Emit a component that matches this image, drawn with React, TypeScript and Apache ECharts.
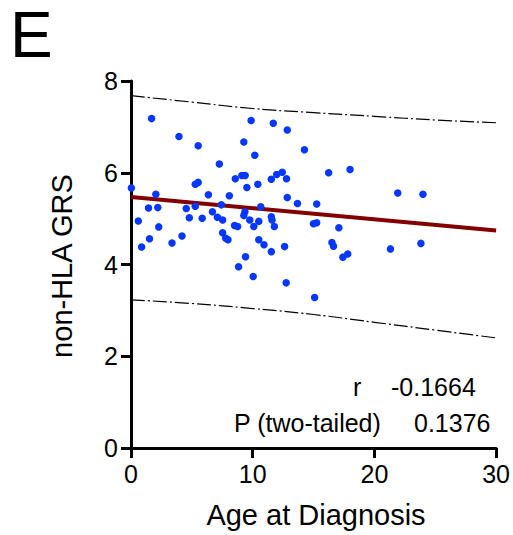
import React, { useEffect, useRef } from 'react';
import * as echarts from 'echarts';

const ages = [
  0.03, 0.6, 0.87, 1.69, 1.44, 1.52, 2.04, 2.2, 2.28, 3.37,
  3.94, 4.19, 4.54, 4.79, 5.28, 5.52, 5.28, 5.52, 5.85, 6.36,
  6.69, 7.26, 7.1, 7.42, 7.53, 7.53, 7.78, 7.97, 8.08, 8.57,
  8.51, 8.76, 8.84, 9.11, 9.38, 9.27, 9.36, 9.27, 9.52, 9.41,
  9.76, 9.87, 10.04, 10.09, 10.17, 10.42, 10.5, 10.5, 10.66, 10.93,
  11.53, 11.53, 11.59, 11.53, 11.69, 11.78, 11.97, 12.43, 12.78, 12.84,
  12.84, 12.62, 12.75, 13.68, 14.25, 14.99, 15.26, 15.26, 15.09, 16.24,
  16.51, 16.64, 17.08, 17.41, 17.81, 18.0, 21.32, 21.92, 23.82, 23.99,
];
const grs = [
  5.67, 4.95, 4.38, 7.18, 5.23, 4.56, 5.53, 5.24, 4.82, 4.47,
  6.79, 4.62, 5.22, 5.02, 5.75, 5.79, 5.27, 6.59, 5.01, 5.52,
  5.15, 6.19, 5.03, 5.3, 4.97, 4.69, 4.57, 4.54, 5.5, 5.87,
  4.85, 4.83, 3.95, 5.94, 5.94, 6.67, 5.15, 5.07, 5.68, 4.17,
  4.97, 7.14, 3.74, 4.83, 6.38, 5.75, 4.94, 4.54, 5.26, 4.43,
  5.86, 5.04, 4.97, 4.28, 7.08, 4.83, 5.96, 6.01, 5.87, 6.93,
  5.46, 4.39, 3.6, 5.33, 6.5, 4.89, 4.91, 5.32, 3.28, 6.0,
  4.48, 4.4, 4.8, 4.16, 4.23, 6.07, 4.34, 5.56, 4.46, 5.53,
];

const fitX = [0, 30];
const fitY = [5.47, 4.74];

const bandX = [0, 5, 10, 15, 20, 25, 30];
const bandUpper = [7.68, 7.54, 7.4, 7.31, 7.23, 7.15, 7.09];
const bandLower = [3.23, 3.15, 3.04, 2.91, 2.74, 2.57, 2.4];

const xTicks = { min: 0, max: 30, interval: 10 };
const yTicks = { min: 0, max: 8, interval: 2 };

const panelLabel = 'E';
const xTitle = 'Age at Diagnosis';
const yTitle = 'non-HLA GRS';
const statR = ['r', '-0.1664'];
const statP = ['P (two-tailed)', '0.1376'];

const FONT = '"Liberation Sans", Arial, Helvetica, sans-serif';

export default function App() {
  const ref = useRef<HTMLDivElement>(null);
  useEffect(() => {
    document.body.style.margin = '0';
    const chart = echarts.init(ref.current!, null, { renderer: 'svg' });
    const axisCommon = {
      axisLine: { show: true, onZero: false, lineStyle: { color: '#000', width: 3 } },
      axisTick: { show: true, inside: false, length: 10, lineStyle: { color: '#000', width: 3 } },
      axisLabel: { color: '#000', fontSize: 25, fontFamily: FONT, margin: 13 },
      splitLine: { show: false },
    };
    chart.setOption({
      animation: false,
      backgroundColor: '#fff',
      grid: { left: 131, right: 14.5, top: 81, bottom: 87, containLabel: false },
      xAxis: { type: 'value', ...xTicks, ...axisCommon },
      yAxis: { type: 'value', ...yTicks, ...axisCommon },
      series: [
        {
          type: 'line',
          data: bandX.map((x, i) => [x, bandUpper[i]]),
          smooth: true,
          showSymbol: false,
          silent: true,
          lineStyle: { color: '#000', width: 1.2, type: [14, 3, 2, 3] },
          z: 2,
        },
        {
          type: 'line',
          data: bandX.map((x, i) => [x, bandLower[i]]),
          smooth: true,
          showSymbol: false,
          silent: true,
          lineStyle: { color: '#000', width: 1.2, type: [14, 3, 2, 3] },
          z: 2,
        },
        {
          type: 'line',
          data: fitX.map((x, i) => [x, fitY[i]]),
          showSymbol: false,
          silent: true,
          lineStyle: { color: '#820000', width: 4 },
          z: 3,
        },
        {
          type: 'scatter',
          data: ages.map((x, i) => [x, grs[i]]),
          symbol: 'circle',
          symbolSize: 7.5,
          itemStyle: { color: '#0637ff', opacity: 1 },
          z: 4,
        },
      ],
      graphic: [
        {
          type: 'text', x: 10, y: 35,
          style: { text: panelLabel, fontSize: 64, fontFamily: FONT, fill: '#000', align: 'left', verticalAlign: 'middle' },
        },
        {
          type: 'text', x: 316, y: 515,
          style: { text: xTitle, fontSize: 29, fontFamily: FONT, fill: '#000', align: 'center', verticalAlign: 'middle' },
        },
        {
          type: 'text', x: 62, y: 266, rotation: Math.PI / 2,
          style: { text: yTitle, fontSize: 29, fontFamily: FONT, fill: '#000', align: 'center', verticalAlign: 'middle' },
        },
        {
          type: 'text', x: 353, y: 387,
          style: { text: statR[0], fontSize: 25, fontFamily: FONT, fill: '#000', align: 'left', verticalAlign: 'middle' },
        },
        {
          type: 'text', x: 391, y: 387,
          style: { text: statR[1], fontSize: 25, fontFamily: FONT, fill: '#000', align: 'left', verticalAlign: 'middle' },
        },
        {
          type: 'text', x: 234, y: 423,
          style: { text: statP[0], fontSize: 25, fontFamily: FONT, fill: '#000', align: 'left', verticalAlign: 'middle' },
        },
        {
          type: 'text', x: 414, y: 423,
          style: { text: statP[1], fontSize: 25, fontFamily: FONT, fill: '#000', align: 'left', verticalAlign: 'middle' },
        },
      ],
    });
    return () => chart.dispose();
  }, []);
  return <div ref={ref} style={{ width: 513, height: 535 }} />;
}
